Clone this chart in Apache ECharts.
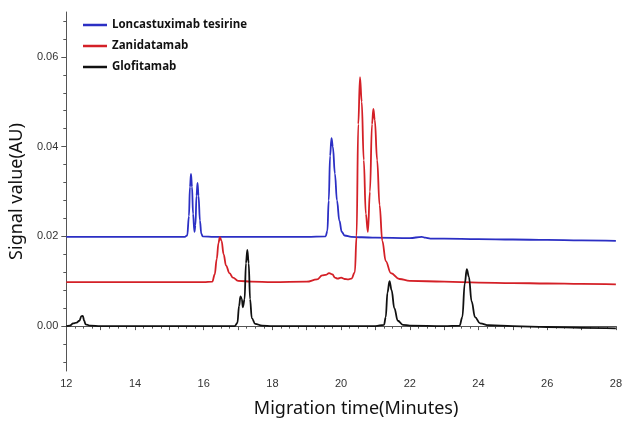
<!DOCTYPE html>
<html><head><meta charset="utf-8">
<script src="https://cdn.jsdelivr.net/npm/echarts@6/dist/echarts.min.js"></script>
<style>html,body{margin:0;padding:0;background:#fff}#c{width:625px;height:423px}</style>
</head><body><div id="c"></div>
<script>
const seriesNames = ['Loncastuximab tesirine', 'Zanidatamab', 'Glofitamab'];
const xTickLabels = [12, 14, 16, 18, 20, 22, 24, 26, 28];
const yTickLabels = [0, 0.02, 0.04, 0.06];
const yMinorTicks = [-0.008, -0.004, 0.004, 0.008, 0.012, 0.016, 0.024, 0.028, 0.032, 0.036, 0.044, 0.048, 0.052, 0.056, 0.064, 0.068];

const blueT = [12, 13, 14, 15, 15.45, 15.52, 15.57, 15.6, 15.63, 15.66, 15.69, 15.73, 15.76, 15.79, 15.82, 15.85, 15.89, 15.93, 15.97, 16.3, 17, 18, 19, 19.55, 19.6, 19.64, 19.68, 19.72, 19.76, 19.82, 19.88, 19.95, 20.02, 20.1, 20.3, 20.6, 21, 22, 22.35, 22.45, 22.6, 23, 24, 25, 26, 27, 28];
const blueV = [0.0199, 0.0199, 0.0199, 0.0199, 0.0199, 0.0202, 0.0245, 0.031, 0.0339, 0.031, 0.025, 0.021, 0.0225, 0.029, 0.0319, 0.029, 0.0235, 0.0206, 0.0200, 0.0199, 0.0199, 0.0199, 0.0199, 0.0200, 0.0212, 0.028, 0.038, 0.0419, 0.040, 0.034, 0.028, 0.0235, 0.021, 0.0202, 0.0199, 0.0198, 0.0197, 0.0196, 0.0199, 0.0197, 0.0195, 0.0195, 0.0194, 0.0193, 0.0192, 0.0191, 0.0190];

const redT = [12, 13, 14, 15, 16, 16.25, 16.32, 16.38, 16.43, 16.47, 16.52, 16.58, 16.65, 16.75, 16.85, 17.0, 17.4, 18, 19, 19.3, 19.45, 19.55, 19.65, 19.75, 19.82, 19.9, 20.0, 20.1, 20.2, 20.3, 20.4, 20.45, 20.5, 20.55, 20.6, 20.66, 20.72, 20.78, 20.84, 20.9, 20.94, 20.98, 21.05, 21.12, 21.2, 21.3, 21.45, 21.7, 22, 23, 24, 25, 26, 27, 28];
const redV = [0.0098, 0.0098, 0.0098, 0.0098, 0.0098, 0.0099, 0.0115, 0.015, 0.0185, 0.0198, 0.019, 0.016, 0.0135, 0.0118, 0.0108, 0.0101, 0.0099, 0.0098, 0.0099, 0.0104, 0.0113, 0.0114, 0.0118, 0.0115, 0.0108, 0.0106, 0.0108, 0.0105, 0.0104, 0.0106, 0.012, 0.02, 0.045, 0.0555, 0.050, 0.037, 0.025, 0.021, 0.030, 0.045, 0.0484, 0.046, 0.037, 0.027, 0.019, 0.0145, 0.0118, 0.0105, 0.0101, 0.0099, 0.0097, 0.0096, 0.0095, 0.0094, 0.0093];

const blackT = [12, 12.1, 12.2, 12.3, 12.38, 12.44, 12.48, 12.52, 12.56, 12.7, 13, 14, 15, 16, 16.9, 16.98, 17.03, 17.07, 17.11, 17.14, 17.19, 17.23, 17.27, 17.31, 17.35, 17.4, 17.5, 17.7, 18, 19, 20, 21, 21.25, 21.3, 21.35, 21.41, 21.47, 21.55, 21.65, 21.8, 22, 23, 23.45, 23.53, 23.6, 23.66, 23.72, 23.8, 23.9, 24.05, 24.3, 25, 26, 27, 28];
const blackV = [0.0, 0.0001, 0.0006, 0.0008, 0.0012, 0.0022, 0.0023, 0.0012, 0.0004, 0.0001, 0.0, 0.0, 0.0, 0.0, 0.0, 0.0007, 0.0045, 0.0066, 0.006, 0.0042, 0.006, 0.014, 0.017, 0.014, 0.006, 0.0018, 0.0005, 0.0001, 0.0, 0.0, 0.0, 0.0, 0.0003, 0.002, 0.0075, 0.0100, 0.008, 0.004, 0.0012, 0.0003, 0.0001, 0.0, 0.0001, 0.002, 0.0095, 0.0127, 0.011, 0.0055, 0.002, 0.0006, 0.0002, 0.0, -0.0002, -0.0004, -0.0005];

const colors = ['#2b2fc4', '#d42027', '#111111'];
const zip = (t, v) => t.map((x, i) => [x, v[i]]);
const allT = [blueT, redT, blackT];
const allV = [blueV, redV, blackV];

const chart = echarts.init(document.getElementById('c'));
const axisColor = '#555';
chart.setOption({
  animation: false,
  backgroundColor: '#fff',
  grid: { left: 66, right: 5, top: 12, bottom: 51 },
  legend: {
    orient: 'vertical', left: 78, top: 13, itemWidth: 24, itemHeight: 2.5, itemGap: 7,
    icon: 'rect',
    textStyle: { fontFamily: 'Open Sans', fontWeight: 'bold', fontSize: 11.5, color: '#111', lineHeight: 14 },
    data: seriesNames
  },
  xAxis: {
    type: 'value', min: 12, max: 28, interval: 1,
    name: 'Migration time(Minutes)', nameLocation: 'middle', nameGap: 29,
    nameTextStyle: { fontFamily: 'Noto Sans', fontSize: 18, color: '#111', padding: [0, 0, 0, 30] },
    axisLine: { show: true, lineStyle: { color: axisColor, width: 1 } },
    axisTick: { show: true, length: 4, lineStyle: { color: axisColor } },
    minorTick: { show: true, splitNumber: 4, length: 2.5, lineStyle: { color: axisColor } },
    splitLine: { show: false },
    axisLabel: {
      fontFamily: 'Liberation Sans', fontSize: 11, color: '#333', margin: 7,
      formatter: v => xTickLabels.indexOf(Math.round(v)) >= 0 && Math.abs(v - Math.round(v)) < 1e-6 ? String(Math.round(v)) : ''
    }
  },
  yAxis: [{
    type: 'value', min: -0.01, max: 0.07, position: 'left',
    name: 'Signal value(AU)', nameLocation: 'middle', nameGap: 31, nameRotate: 90,
    nameTextStyle: { fontFamily: 'Noto Sans', fontSize: 18, color: '#111' },
    axisLine: { show: true, lineStyle: { color: axisColor, width: 1 } },
    axisTick: { show: true, length: 5, lineStyle: { color: axisColor }, customValues: yTickLabels },
    splitLine: { show: false },
    axisLabel: { fontFamily: 'Liberation Sans', fontSize: 11, color: '#333', margin: 8,
      customValues: yTickLabels, formatter: v => v.toFixed(2) }
  }, {
    type: 'value', min: -0.01, max: 0.07, position: 'left', offset: 0,
    axisLine: { show: false },
    axisTick: { show: true, length: 3, lineStyle: { color: axisColor }, customValues: yMinorTicks },
    axisLabel: { show: false },
    splitLine: { show: false }
  }],
  series: seriesNames.map((n, i) => ({
    name: n, type: 'line', yAxisIndex: 0, data: zip(allT[i], allV[i]),
    showSymbol: false, symbol: 'none', smooth: 0.4, smoothMonotone: 'x',
    lineStyle: { color: colors[i], width: 1.8 }, itemStyle: { color: colors[i] }
  }))
});
</script></body></html>
